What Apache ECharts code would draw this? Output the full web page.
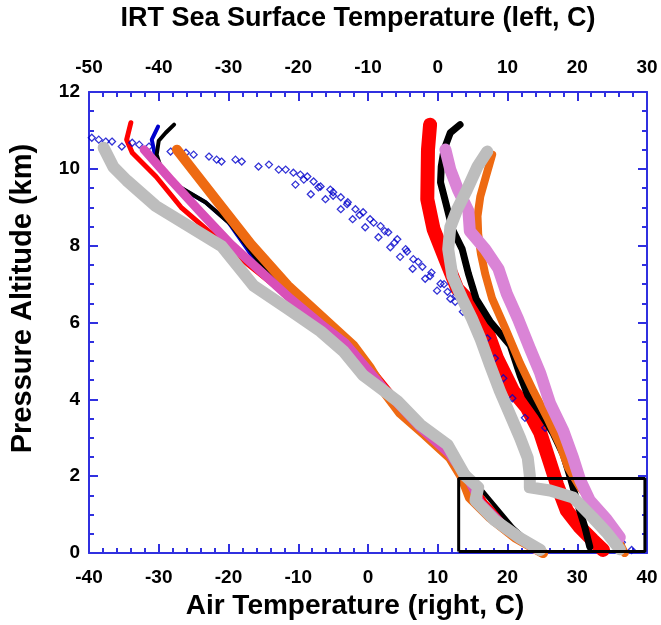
<!DOCTYPE html>
<html>
<head>
<meta charset="utf-8">
<script src="https://cdn.jsdelivr.net/npm/echarts@6/dist/echarts.min.js"></script>
<style>
  html, body { margin: 0; padding: 0; background: #fff; }
  #chart { width: 661px; height: 625px; }
</style>
</head>
<body>
<div id="chart"></div>
<script>
// tick labels
const airTicks = [-40, -30, -20, -10, 0, 10, 20, 30, 40];
const irtTicks = [-50, -40, -30, -20, -10, 0, 10, 20, 30];
const altTicks = [0, 2, 4, 6, 8, 10, 12];

// IRT sea surface temperature profiles (left group, top axis, C) vs altitude (km)
const irtRedT = [-44.0, -44.6, -43.8, -40.4, -36.8, -31.0, -26.8, -21.1, -16.1, -12.5, -8.9, -5.4, -1.8, 1.8, 4.6, 6.8, 10.4, 13.9];
const irtRedAlt = [11.2, 10.76, 10.42, 9.8, 9.0, 8.09, 7.45, 6.62, 5.92, 5.33, 4.68, 3.9, 3.31, 2.69, 1.97, 1.32, 0.67, 0.1];
const irtBlueT = [-40.1, -41.0, -40.4, -38.3, -33.3, -30.0, -25.1];
const irtBlueAlt = [11.1, 10.76, 10.24, 9.65, 9.13, 8.61, 7.34];
const irtBlackT = [-37.8, -39.0, -40.0, -40.3, -39.7, -37.1, -33.3, -29.7, -25.1, -20.4, -15.4, -11.1, -7.5, -3.2, 1.1, 4.6, 7.2, 10.8, 13.9];
const irtBlackAlt = [11.15, 10.94, 10.73, 10.37, 10.03, 9.54, 9.13, 8.56, 7.45, 6.62, 5.92, 5.2, 4.29, 3.52, 2.79, 2.02, 1.45, 0.67, 0.16];
const irtOrangeT = [-37.4, -31.8, -26.8, -21.5, -16.8, -12.1, -9.7, -7.5, -5.4, -1.8, 1.8, 3.5, 4.6, 7.5, 11.1, 15.1];
const irtOrangeAlt = [10.5, 9.2, 8.04, 6.96, 6.18, 5.4, 4.81, 4.16, 3.65, 3.08, 2.48, 1.97, 1.45, 0.93, 0.41, 0.0];
const irtMagentaT = [-42.1, -38.3, -34.0, -29.7, -26.1, -21.1, -16.8, -13.2, -10.4, -6.8, -2.5, 1.5, 4.4, 6.1, 9.7, 13.9];
const irtMagentaAlt = [10.5, 9.72, 8.87, 8.04, 7.45, 6.62, 5.97, 5.46, 4.86, 4.09, 3.26, 2.61, 1.91, 1.32, 0.67, 0.1];
const irtGrayT = [-47.9, -46.5, -44.6, -40.4, -35.7, -31.0, -26.4, -21.5, -16.8, -13.5, -10.7, -8.2, -5.8, -2.5, 1.4, 3.9, 5.8, 5.4, 8.2, 11.8, 14.7];
const irtGrayAlt = [10.55, 10.05, 9.7, 9.03, 8.51, 7.99, 6.96, 6.36, 5.77, 5.25, 4.63, 4.29, 3.96, 3.34, 2.82, 2.02, 1.71, 1.37, 0.85, 0.39, 0.08];

// air temperature profiles (right group, bottom axis, C) vs altitude (km)
const airRedT = [8.9, 8.6, 8.5, 9.4, 11.1, 12.8, 15.8, 17.2, 18.5, 20.8, 22.8, 24.7, 26.1, 27.1, 28.5, 30.4, 32.2, 33.7];
const airRedAlt = [11.15, 10.5, 9.21, 8.43, 7.65, 6.88, 6.31, 5.72, 5.07, 4.22, 3.78, 3.13, 2.35, 1.78, 1.11, 0.67, 0.34, 0.08];
const airBlackT = [13.2, 11.8, 10.9, 10.5, 10.4, 11.2, 12.1, 13.5, 14.4, 15.5, 17.5, 20.4, 21.8, 22.9, 24.7, 26.5, 28.0, 29.0, 30.0, 31.1, 31.8];
const airBlackAlt = [11.15, 10.94, 10.5, 10.06, 9.65, 9.08, 8.43, 7.91, 7.27, 6.62, 6.03, 5.4, 4.63, 4.11, 3.65, 3.13, 2.56, 1.97, 1.32, 0.67, 0.16];
const airOrchidT = [11.1, 11.8, 12.9, 14.4, 14.6, 16.8, 18.7, 19.9, 21.5, 23.2, 24.7, 26.1, 28.0, 29.4, 30.4, 31.8, 34.2, 36.1];
const airOrchidAlt = [10.5, 9.98, 9.46, 8.9, 8.38, 7.91, 7.4, 6.75, 6.1, 5.33, 4.68, 3.9, 3.18, 2.48, 1.91, 1.37, 0.88, 0.41];
const airOrangeT = [17.8, 16.9, 16.1, 15.7, 15.8, 16.2, 16.8, 17.8, 19.7, 21.8, 23.7, 25.7, 27.5, 28.7, 30.4, 32.2, 34.0, 35.7, 36.8];
const airOrangeAlt = [10.37, 9.8, 9.28, 8.77, 8.3, 7.78, 7.27, 6.62, 5.84, 4.94, 4.22, 3.52, 2.82, 2.22, 1.71, 1.32, 0.88, 0.41, 0.0];
const airGrayT = [17.1, 15.7, 14.2, 12.8, 11.8, 11.5, 12.1, 13.5, 14.9, 16.1, 17.5, 18.9, 20.4, 21.8, 22.9, 23.2, 23.2, 26.1, 29.4, 32.2, 34.2, 36.1];
const airGrayAlt = [10.45, 10.06, 9.46, 8.95, 8.48, 7.91, 7.21, 6.62, 6.1, 5.59, 4.89, 4.22, 3.59, 3.0, 2.48, 2.02, 1.71, 1.63, 1.45, 0.93, 0.54, 0.1];
const airBlueT = [-39.6, -38.6, -37.6, -36.7, -35.3, -33.8, -32.8, -31.4, -28.3, -26.1, -25.0, -22.8, -21.7, -21.0, -19.0, -18.1, -15.7, -14.2, -12.8, -11.8,
  -10.7, -9.7, -8.7, -7.8, -6.8, -5.4, -5.0, -3.9, -2.9, -1.8, -0.7, 0.3, 1.8, 2.9, 4.2, 5.4, 6.5, 7.8, 8.9, 10.4, 11.4, 12.5, 13.6,
  15.4, 17.1, 18.2, 19.4, 20.7, 22.5, 25.4, 27.1, 28.7, 30.1, 32.2, 34.2, 36.4, 37.8,
  -10.4, -8.2, -6.1, -3.9, -2.2, -0.4, 1.5, 3.2, 4.6, 6.4, 8.2, 9.9, 11.8,
  -9.2, -7.1, -5.0, -3.0, -1.2, 0.8, 2.4, 3.8, 5.6, 7.2, 9.1, 10.9, 12.6, 14.2];
const airBlueAlt = [10.81, 10.76, 10.71, 10.71, 10.58, 10.68, 10.63, 10.58, 10.45, 10.42, 10.37, 10.32, 10.24, 10.19, 10.24, 10.19, 10.06, 10.11, 9.98, 9.98,
  9.9, 9.85, 9.8, 9.67, 9.54, 9.46, 9.39, 9.26, 9.13, 8.95, 8.87, 8.69, 8.51, 8.35, 8.17, 7.91, 7.65, 7.45, 7.21, 7.01, 6.8, 6.54, 6.28,
  5.97, 5.59, 5.07, 4.55, 4.03, 3.52, 3.26, 3.0, 2.48, 2.02, 1.32, 0.75, 0.28, 0.08,
  9.59, 9.34, 9.21, 8.95, 8.69, 8.48, 8.22, 7.96, 7.71, 7.4, 7.14, 6.83, 6.62,
  9.72, 9.52, 9.3, 9.08, 8.8, 8.6, 8.38, 8.08, 7.85, 7.58, 7.3, 7.0, 6.7, 6.42];

// highlighted near-surface box (bottom axis C, km)
const boxT = [13, 39.7, 39.7, 13, 13];
const boxAlt = [0.04, 0.04, 1.94, 1.94, 0.04];

const zip = (xs, ys) => xs.map((x, i) => [x, ys[i]]);

const FONT = "'Liberation Sans', Arial, sans-serif";
const AXIS_BLUE = "#3030e0";

const profile = (name, xs, ys, color, width, axis, z) => ({
  name,
  type: "line",
  xAxisIndex: axis,
  data: zip(xs, ys),
  symbol: "none",
  z,
  lineStyle: { color, width, cap: "round", join: "round" },
  silent: true,
});

const chart = echarts.init(document.getElementById("chart"));

const xAxisBase = {
  type: "value",
  interval: 10,
  splitLine: { show: false },
  axisLine: { show: true, onZero: false, lineStyle: { color: AXIS_BLUE, width: 2 } },
  axisTick: { show: true, inside: true, length: 9, lineStyle: { color: AXIS_BLUE, width: 2 } },
  minorTick: { show: true, splitNumber: 5, length: 5, lineStyle: { color: AXIS_BLUE, width: 2 } },
  axisLabel: { color: "#000", fontFamily: FONT, fontWeight: "bold", fontSize: 19, margin: 15 },
  nameLocation: "middle",
  nameTextStyle: { color: "#000", fontFamily: FONT, fontWeight: "bold", fontSize: 27 },
};

const yAxisBase = {
  type: "value",
  min: altTicks[0],
  max: altTicks[altTicks.length - 1],
  interval: 2,
  splitLine: { show: false },
  axisLine: { show: true, onZero: false, lineStyle: { color: AXIS_BLUE, width: 2 } },
  axisTick: { show: true, inside: true, length: 9, lineStyle: { color: AXIS_BLUE, width: 2 } },
  minorTick: { show: true, splitNumber: 4, length: 5, lineStyle: { color: AXIS_BLUE, width: 2 } },
};

const options = {
  animation: false,
  backgroundColor: "#fff",
  grid: { left: 88, right: 14, top: 92, bottom: 69, containLabel: false },
  xAxis: [
    Object.assign({}, xAxisBase, {
      position: "bottom",
      min: airTicks[0],
      max: airTicks[airTicks.length - 1],
      name: "Air Temperature (right, C)",
      nameGap: 35,
      nameTextStyle: Object.assign({}, xAxisBase.nameTextStyle, { fontSize: 28, padding: [0, 26, 0, 0] }),
    }),
    Object.assign({}, xAxisBase, {
      position: "top",
      min: irtTicks[0],
      max: irtTicks[irtTicks.length - 1],
      name: "IRT Sea Surface Temperature (left, C)",
      nameGap: 60,
      nameTextStyle: Object.assign({}, xAxisBase.nameTextStyle, { padding: [0, 20, 0, 0] }),
    }),
  ],
  yAxis: [
    Object.assign({}, yAxisBase, {
      position: "left",
      name: "Pressure Altitude (km)",
      nameLocation: "middle",
      nameGap: 52,
      nameTextStyle: { color: "#000", fontFamily: FONT, fontWeight: "bold", fontSize: 29, padding: [0, 0, 0, 48] },
      axisLabel: { color: "#000", fontFamily: FONT, fontWeight: "bold", fontSize: 19, margin: 9 },
    }),
    Object.assign({}, yAxisBase, {
      position: "right",
      axisLabel: { show: false },
    }),
  ],
  series: [
    profile("IRT red", irtRedT, irtRedAlt, "#ff0000", 5, 1, 2),
    profile("IRT blue", irtBlueT, irtBlueAlt, "#0000cc", 4, 1, 3),
    profile("IRT black", irtBlackT, irtBlackAlt, "#000000", 4, 1, 3),
    profile("IRT orange", irtOrangeT, irtOrangeAlt, "#ee6a12", 10, 1, 4),
    profile("IRT magenta", irtMagentaT, irtMagentaAlt, "#d84fb8", 9, 1, 5),
    profile("IRT gray", irtGrayT, irtGrayAlt, "#bdbdbd", 12, 1, 6),
    profile("Air red", airRedT, airRedAlt, "#ff0000", 14, 0, 2),
    {
      name: "Air blue",
      type: "scatter",
      xAxisIndex: 0,
      data: zip(airBlueT, airBlueAlt),
      symbol: "diamond",
      symbolSize: 7,
      z: 3,
      itemStyle: { color: "rgba(255,255,255,0)", borderColor: "#0000cc", borderWidth: 1.3 },
      silent: true,
    },
    profile("Air black", airBlackT, airBlackAlt, "#000000", 7, 0, 4),
    profile("Air orange", airOrangeT, airOrangeAlt, "#ee6a12", 8, 0, 4),
    profile("Air orchid", airOrchidT, airOrchidAlt, "#da84d6", 12, 0, 5),
    profile("Air gray", airGrayT, airGrayAlt, "#bdbdbd", 12, 0, 6),
    {
      name: "Box",
      type: "line",
      xAxisIndex: 0,
      data: zip(boxT, boxAlt),
      symbol: "none",
      z: 7,
      lineStyle: { color: "#000", width: 3 },
      silent: true,
    },
  ],
};

chart.setOption(options);
</script>
</body>
</html>
